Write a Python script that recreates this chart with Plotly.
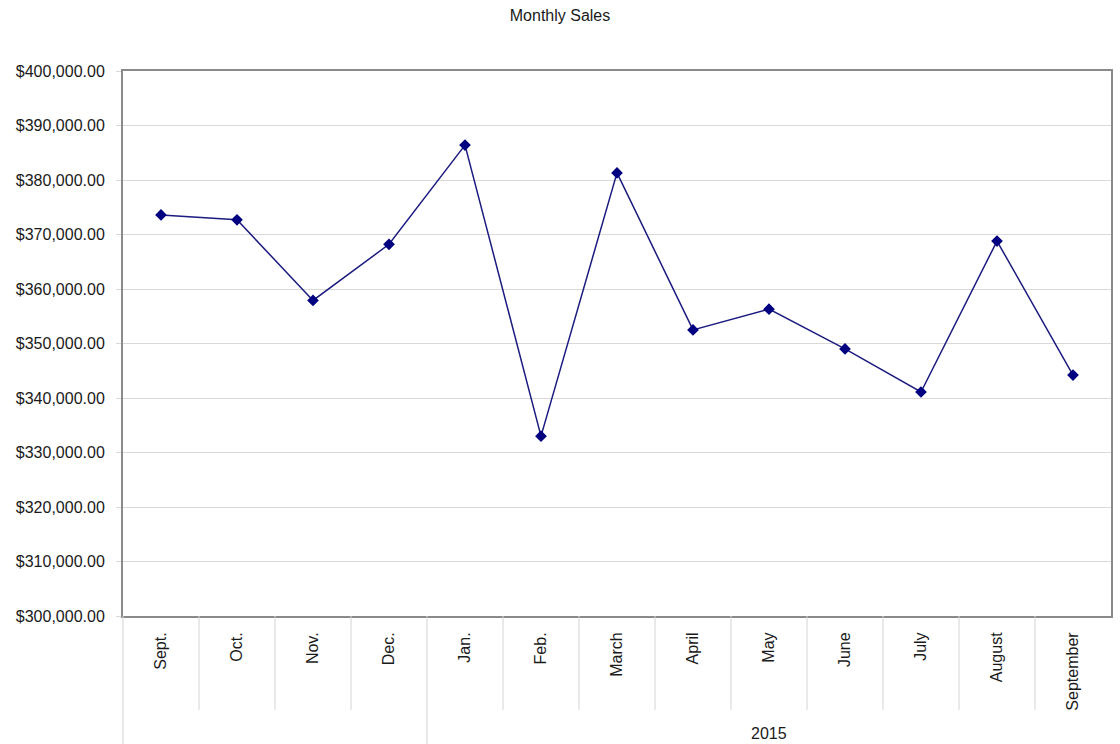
import plotly.graph_objects as go

# Monthly sales, Sept. 2014 through September 2015
months = ["Sept.", "Oct.", "Nov.", "Dec.", "Jan.", "Feb.", "March", "April",
          "May", "June", "July", "August", "September"]
sales = [373600, 372700, 357900, 368200, 386400, 333000, 381300, 352500,
         356300, 349000, 341100, 368800, 344200]
# second-level grouping of the category axis
groups = [("", 0, 3), ("2015", 4, 12)]

FONT = "Liberation Sans, Arial, sans-serif"
n = len(months)

fig = go.Figure()
fig.add_trace(go.Scatter(
    x=months, y=sales, mode="lines+markers",
    line=dict(color="#1b1b80", width=1.5),
    marker=dict(symbol="diamond", size=9, color="#000080"),
    showlegend=False,
))

shapes = []
# separators between categories in the first label row
for k in range(n):
    shapes.append(dict(type="line", xref="paper", yref="paper",
                       x0=k / n, x1=k / n, y0=0, y1=-0.1725,
                       line=dict(color="#d4d4d4", width=1)))
# group separators run to the bottom edge
for _, start, _ in groups:
    shapes.append(dict(type="line", xref="paper", yref="paper",
                       x0=start / n, x1=start / n, y0=-0.1725, y1=-0.3,
                       line=dict(color="#d4d4d4", width=1)))

annotations = []
for label, start, end in groups:
    if label:
        annotations.append(dict(
            text=label, xref="paper", yref="paper",
            x=(start + end + 1) / 2 / n, y=-0.2147,
            xanchor="center", yanchor="middle", showarrow=False,
            font=dict(family=FONT, size=16, color="#1a1a1a")))

fig.update_layout(
    width=1120, height=744,
    margin=dict(l=123, r=7, t=71, b=128),
    paper_bgcolor="white", plot_bgcolor="white",
    font=dict(family=FONT, size=16, color="#1a1a1a"),
    title=dict(text="Monthly Sales", x=0.5, xref="container",
               y=1 - 15 / 744, yref="container", yanchor="middle",
               xanchor="center",
               font=dict(family=FONT, size=16, color="#1a1a1a")),
    xaxis=dict(type="category", range=[-0.5, n - 0.5],
               showgrid=False, showline=True, mirror=True,
               linecolor="#8a8a8a", linewidth=2,
               ticks="", tickangle=-90, ticklabelstandoff=8,
               tickfont=dict(family=FONT, size=16, color="#1a1a1a")),
    yaxis=dict(range=[300000, 400000], dtick=10000, tickformat="$,.2f",
               showgrid=True, gridcolor="#d9d9d9", gridwidth=1,
               showline=True, mirror=True, linecolor="#8a8a8a", linewidth=2,
               ticks="outside", ticklen=5, tickcolor="#d9d9d9",
               ticklabelstandoff=8, zeroline=False,
               tickfont=dict(family=FONT, size=16, color="#1a1a1a")),
    shapes=shapes,
    annotations=annotations,
)

fig.write_html("out.html")
